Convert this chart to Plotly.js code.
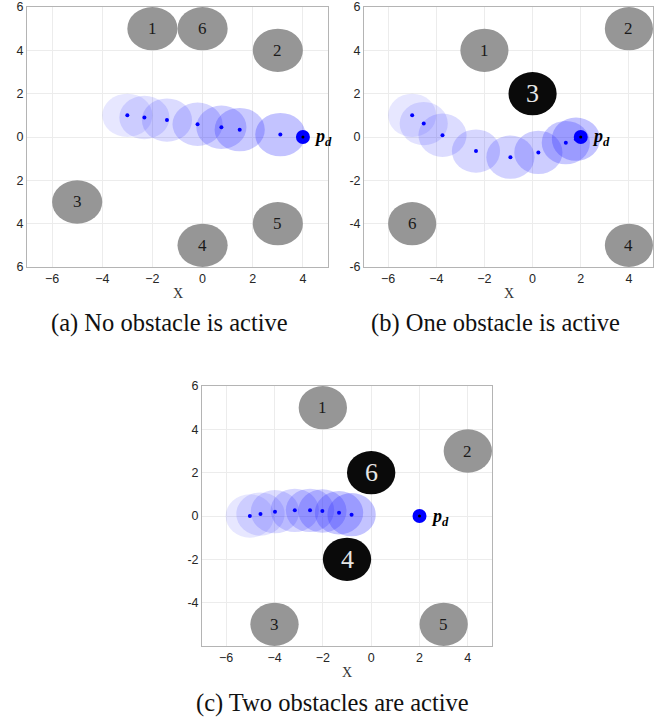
<!DOCTYPE html>
<html><head><meta charset="utf-8">
<script src="https://cdn.plot.ly/plotly-3.0.1.min.js"></script>
<style>html,body{margin:0;padding:0;background:#fff}#chart{width:671px;height:717px}</style>
</head><body><div id="chart"></div>
<script>
// ---- data ----
// (a) No obstacle is active
const obsA_x = [-2, 3, -5, 0, 3, 0];
const obsA_y = [5, 4, -3, -5, -4, 5];
const obsA_label = ["1", "2", "3", "4", "5", "6"];
const obsA_active = [0, 0, 0, 0, 0, 0];
const trajA_x = [-3.0, -2.32, -1.42, -0.2, 0.75, 1.48, 3.1];
const trajA_y = [1.0, 0.9, 0.78, 0.59, 0.45, 0.34, 0.11];
const goalA = [4, 0];

// (b) One obstacle is active
const obsB_x = [-2, 4, 0, 4, -5];
const obsB_y = [4, 5, 2, -5, -4];
const obsB_label = ["1", "2", "3", "4", "6"];
const obsB_active = [0, 0, 1, 0, 0];
const trajB_x = [-5.0, -4.52, -3.74, -2.35, -0.92, 0.24, 1.38, 1.8];
const trajB_y = [1.0, 0.62, 0.08, -0.65, -0.93, -0.71, -0.26, -0.1];
const goalB = [2, 0];

// (c) Two obstacles are active
const obsC_x = [-2, 4, -4, -1, 3, 0];
const obsC_y = [5, 3, -5, -2, -5, 2];
const obsC_label = ["1", "2", "3", "4", "5", "6"];
const obsC_active = [0, 0, 0, 1, 0, 1];
const trajC_x = [-5.02, -4.58, -3.98, -3.16, -2.53, -2.02, -1.33, -0.81];
const trajC_y = [0.0, 0.09, 0.2, 0.26, 0.26, 0.23, 0.15, 0.06];
const goalC = [2, 0];

const obstacleRadius = 1;
const robotRadius = 1;

const xTickVals = [-6, -4, -2, 0, 2, 4];
const yTickValsAB = [6, 4, 2, 0, -2, -4, -6];
const yTickTextA = ["6", "4", "2", "0", "2", "4", "6"];
const yTickTextB = ["6", "4", "2", "0", "-2", "-4", "-6"];
const yTickValsC = [6, 4, 2, 0, -2, -4];
const yTickTextC = ["6", "4", "2", "0", "-2", "-4"];

const captions = ["(a) No obstacle is active", "(b) One obstacle is active", "(c) Two obstacles are active"];

// ---- build ----
const W = 671, H = 717;
const px = v => v / W, py = v => 1 - v / H;

const panels = [
  {ox: obsA_x, oy: obsA_y, ol: obsA_label, oa: obsA_active, tx: trajA_x, ty: trajA_y, g: goalA,
   dom: [27, 328, 7, 267], yv: yTickValsAB, yt: yTickTextA, cap: captions[0], capx: 169, capy: 323, xl: [178, 293]},
  {ox: obsB_x, oy: obsB_y, ol: obsB_label, oa: obsB_active, tx: trajB_x, ty: trajB_y, g: goalB,
   dom: [364, 653, 7, 267], yv: yTickValsAB, yt: yTickTextB, cap: captions[1], capx: 495, capy: 323, xl: [509, 293]},
  {ox: obsC_x, oy: obsC_y, ol: obsC_label, oa: obsC_active, tx: trajC_x, ty: trajC_y, g: goalC,
   dom: [202, 492, 386, 646], yv: yTickValsC, yt: yTickTextC, cap: captions[2], capx: 332, capy: 703, xl: [347, 672]}
];

const data = [], shapes = [], annotations = [];
const layout = {
  width: W, height: H, margin: {l: 0, r: 0, t: 0, b: 0},
  paper_bgcolor: '#fff', plot_bgcolor: '#fff', showlegend: false,
  font: {family: 'Liberation Sans, Arial, sans-serif', size: 12, color: '#262626'}
};

panels.forEach((p, i) => {
  const k = i === 0 ? '' : String(i + 1);
  const xr = 'x' + k, yr = 'y' + k;
  layout['xaxis' + k] = {
    domain: [px(p.dom[0]), px(p.dom[1])], anchor: yr, range: [-7, 5],
    tickvals: xTickVals, showgrid: true, gridcolor: '#ececec', gridwidth: 1,
    zeroline: false, showline: true, linecolor: '#b4b4b4', linewidth: 1, mirror: true,
    ticks: '', tickfont: {size: 12.5, color: '#262626'}, fixedrange: true
  };
  layout['yaxis' + k] = {
    domain: [py(p.dom[3]), py(p.dom[2])], anchor: xr, range: [-6, 6],
    tickvals: p.yv, ticktext: p.yt, showgrid: true, gridcolor: '#ececec', gridwidth: 1,
    zeroline: false, showline: true, linecolor: '#b4b4b4', linewidth: 1, mirror: true,
    ticks: '', tickfont: {size: 12.5, color: '#262626'}, fixedrange: true
  };
  // robot footprints
  const n = p.tx.length;
  p.tx.forEach((x, j) => {
    const a = 0.11 + 0.17 * j / (n - 1);
    shapes.push({type: 'circle', xref: xr, yref: yr, layer: 'between',
      x0: x - robotRadius, x1: x + robotRadius, y0: p.ty[j] - robotRadius, y1: p.ty[j] + robotRadius,
      fillcolor: 'rgba(40,40,255,' + a.toFixed(3) + ')', line: {width: 0}});
  });
  // obstacles
  p.ox.forEach((x, j) => {
    const act = p.oa[j] === 1;
    shapes.push({type: 'circle', xref: xr, yref: yr, layer: 'between',
      x0: x - obstacleRadius, x1: x + obstacleRadius, y0: p.oy[j] - obstacleRadius, y1: p.oy[j] + obstacleRadius,
      fillcolor: act ? '#0a0a0a' : '#969696', line: {width: 0}});
    annotations.push({xref: xr, yref: yr, x: x, y: p.oy[j], text: p.ol[j], showarrow: false,
      font: {family: 'Liberation Serif, DejaVu Serif, serif', size: act ? 26 : 17, color: act ? '#e6e6e6' : '#1a1a1a'}});
  });
  // trajectory points
  data.push({type: 'scatter', mode: 'markers', x: p.tx, y: p.ty, xaxis: xr, yaxis: yr,
    marker: {color: '#0000ff', size: 4}, hoverinfo: 'skip', cliponaxis: false});
  // goal
  data.push({type: 'scatter', mode: 'markers', x: [p.g[0]], y: [p.g[1]], xaxis: xr, yaxis: yr,
    marker: {color: '#0000ff', size: 14}, hoverinfo: 'skip', cliponaxis: false});
  data.push({type: 'scatter', mode: 'markers', x: [p.g[0]], y: [p.g[1]], xaxis: xr, yaxis: yr,
    marker: {color: '#000000', size: 3}, hoverinfo: 'skip', cliponaxis: false});
  annotations.push({xref: xr, yref: yr, x: p.g[0], y: p.g[1], xanchor: 'left', xshift: 9, yshift: -1,
    text: '<b><i>p</i></b><sub><b><i>d</i></b></sub>', showarrow: false,
    font: {family: 'Liberation Serif, DejaVu Serif, serif', size: 18, color: '#000'}});
  // X label
  annotations.push({xref: 'paper', yref: 'paper', x: px(p.xl[0]), y: py(p.xl[1]), text: 'X', showarrow: false,
    xanchor: 'center', yanchor: 'middle', font: {family: 'Liberation Serif, DejaVu Serif, serif', size: 14, color: '#333'}});
  // caption
  annotations.push({xref: 'paper', yref: 'paper', x: px(p.capx), y: py(p.capy), text: p.cap, showarrow: false,
    xanchor: 'center', yanchor: 'middle', font: {family: 'Liberation Serif, DejaVu Serif, serif', size: 24.5, color: '#111'}});
});
layout.shapes = shapes;
layout.annotations = annotations;

Plotly.newPlot('chart', data, layout, {staticPlot: true});
</script></body></html>
